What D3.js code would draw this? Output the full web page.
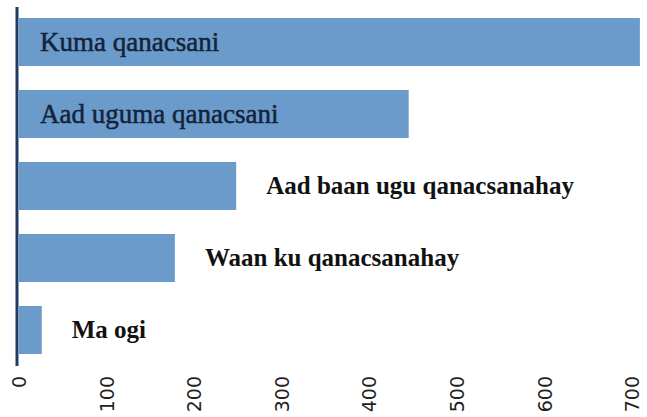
<!DOCTYPE html>
<html>
<head>
  <script src="https://d3js.org/d3.v7.min.js"></script>
  <style>
    body { margin: 0; background: #fff; }
  </style>
</head>
<body>
  <div id="chart"></div>

  <script>
    var categories = ["Kuma qanacsani", "Aad uguma qanacsani", "Aad baan ugu qanacsanahay", "Waan ku qanacsanahay", "Ma ogi"];
    var values = [709, 445, 248, 178, 26];
    var insideLabel = [true, true, false, false, false];
    var tickValues = [0, 100, 200, 300, 400, 500, 600, 700];

    var width = 647, height = 417;

    var svg = d3.select("#chart")
      .append("svg")
      .attr("width", width)
      .attr("height", height);

    var x = d3.scaleLinear()
      .domain([0, 700])
      .range([19, 632]);

    var y = d3.scaleBand()
      .domain(categories)
      .range([6, 366])
      .paddingInner(1 / 3)
      .paddingOuter(1 / 6);

    svg.selectAll("rect.bar")
      .data(values)
      .enter()
      .append("rect")
      .attr("class", "bar")
      .attr("x", x(0))
      .attr("y", function(d, i) { return y(categories[i]); })
      .attr("width", function(d) { return x(d) - x(0); })
      .attr("height", y.bandwidth())
      .attr("fill", "#6a9bcb");

    // labels: inside the two long bars, bold after the short ones
    svg.selectAll("text.lab")
      .data(values)
      .enter()
      .append("text")
      .attr("class", "lab")
      .attr("x", function(d, i) { return insideLabel[i] ? 40 : x(d) + 30; })
      .attr("y", function(d, i) { return y(categories[i]) + y.bandwidth() / 2; })
      .attr("dy", "0.32em")
      .style("font-family", "'Liberation Serif', serif")
      .style("font-size", function(d, i) { return insideLabel[i] ? "27px" : "25px"; })
      .style("font-weight", function(d, i) { return insideLabel[i] ? "normal" : "bold"; })
      .attr("fill", function(d, i) { return insideLabel[i] ? "#14233a" : "#111"; })
      .attr("stroke", function(d, i) { return insideLabel[i] ? "#14233a" : "none"; })
      .attr("stroke-width", 0.5)
      .text(function(d, i) { return categories[i]; });

    // left axis line
    svg.append("line")
      .attr("x1", 17).attr("x2", 17)
      .attr("y1", 7).attr("y2", 366)
      .attr("stroke", "#1f3b63")
      .attr("stroke-width", 3);

    var xAxis = svg.append("g")
      .attr("transform", "translate(0,366)")
      .call(d3.axisBottom(x).tickValues(tickValues).tickSize(0));

    xAxis.select(".domain").remove();
    xAxis.selectAll("text")
      .attr("transform", "rotate(-90)")
      .attr("x", -10)
      .attr("y", 0)
      .attr("dy", "0.35em")
      .attr("text-anchor", "end")
      .attr("fill", "#222")
      .style("font-family", "'DejaVu Sans', sans-serif")
      .style("font-size", "19px");
  </script>
</body>
</html>
